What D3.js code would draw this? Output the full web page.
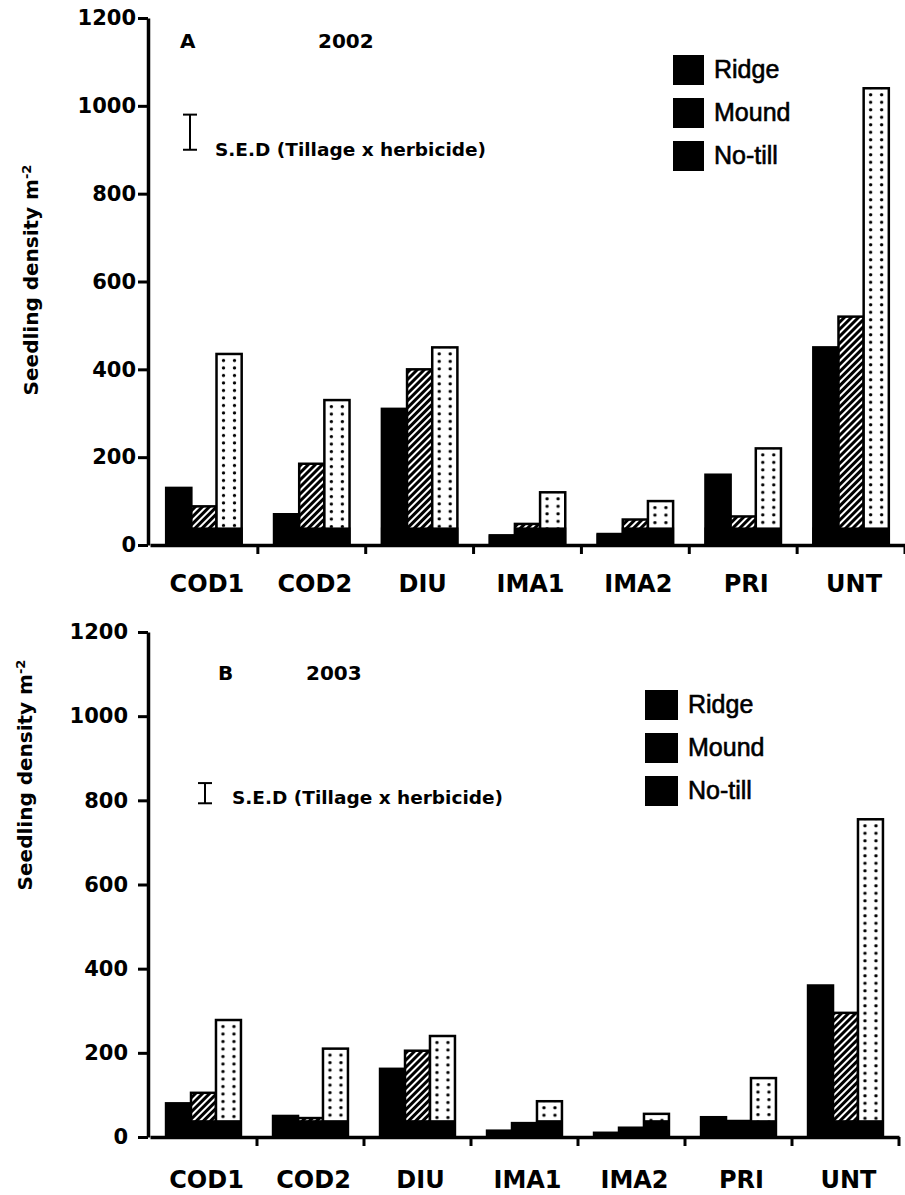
<!DOCTYPE html>
<html>
<head>
<meta charset="utf-8">
<script src="https://cdn.jsdelivr.net/npm/d3@7/dist/d3.min.js"></script>
<style>
  body { margin: 0; background: #fff; }
  svg { display: block; }
  text { font-family: 'DejaVu Sans', sans-serif; font-weight: bold; fill: #000; }
</style>
</head>
<body>
<svg id="chart" width="905" height="1195"></svg>
<script>
const categories = ['COD1', 'COD2', 'DIU', 'IMA1', 'IMA2', 'PRI', 'UNT'];
const tillage = ['Ridge', 'Mound', 'No-till'];
const yTicks = [0, 200, 400, 600, 800, 1000, 1200];

// 2002 seedling density (m-2)
const ridge2002 = [130, 70, 310, 22, 25, 160, 450];
const mound2002 = [88, 185, 400, 48, 58, 65, 520];
const notill2002 = [435, 330, 450, 120, 100, 220, 1040];

// 2003 seedling density (m-2)
const ridge2003 = [80, 50, 162, 15, 10, 47, 360];
const mound2003 = [105, 45, 205, 33, 22, 38, 295];
const notill2003 = [278, 210, 240, 85, 55, 140, 755];

// S.E.D (tillage x herbicide): [low, high]
const sed2002 = [900, 980];
const sed2003 = [793, 841];

// dark band the scan left at the foot of every bar
const BASE_SHADE = 40;

const svg = d3.select('#chart');
const defs = svg.append('defs');

defs.append('pattern')
  .attr('id', 'hatch')
  .attr('patternUnits', 'userSpaceOnUse')
  .attr('width', 5)
  .attr('height', 5)
  .attr('patternTransform', 'rotate(45)')
  .call(p => {
    p.append('rect').attr('width', 5).attr('height', 5).attr('fill', '#fff');
    p.append('line')
      .attr('x1', 1.5).attr('y1', 0)
      .attr('x2', 1.5).attr('y2', 5)
      .attr('stroke', '#000')
      .attr('stroke-width', 3);
  });

const panels = [
  {
    id: 'a', letter: 'A', year: '2002',
    series: [ridge2002, mound2002, notill2002], sed: sed2002,
    xRange: [150, 905], yRange: [545, 18],
    letterPos: [180, 48], yearPos: [318, 48],
    sedX: 190, sedText: [215, 156],
    legend: { x: 673, y: 55, w: 31, h: 30, step: 43 },
    yLabel: [38, 280], tickPad: 2, catOffset: 30,
  },
  {
    id: 'b', letter: 'B', year: '2003',
    series: [ridge2003, mound2003, notill2003], sed: sed2003,
    xRange: [150, 899], yRange: [1137, 632],
    letterPos: [218, 680], yearPos: [306, 680],
    sedX: 205, sedText: [232, 804],
    legend: { x: 645, y: 690, w: 33, h: 30, step: 43 },
    yLabel: [32, 775], tickPad: 10, catOffset: 34,
  },
];

panels.forEach(drawPanel);

function drawPanel(p) {
  let g = svg.append('g').attr('class', `panel-${p.id}`);

  let x = d3.scaleBand()
    .domain(categories)
    .range(p.xRange)
    .padding(0);

  let bw = x.bandwidth();
  let xSub = d3.scaleBand()
    .domain(tillage)
    .range([0.15 * bw, 0.85 * bw])
    .padding(0);

  let y = d3.scaleLinear()
    .domain([0, 1200])
    .range(p.yRange);

  let data = [];
  categories.forEach((c, i) => {
    tillage.forEach((t, j) => {
      data.push({ cat: c, till: t, value: p.series[j][i] });
    });
  });

  // one dot pattern per no-till bar so the columns sit inside the bar
  data.filter(d => d.till === 'No-till').forEach((d, i) => {
    let bx = x(d.cat) + xSub(d.till);
    let pat = defs.append('pattern')
      .attr('id', `dots-${p.id}-${i}`)
      .attr('patternUnits', 'userSpaceOnUse')
      .attr('x', bx + 1.5)
      .attr('y', y(d.value) + 3)
      .attr('width', 11)
      .attr('height', 7.5);
    pat.append('rect').attr('width', 11).attr('height', 7.5).attr('fill', '#fff');
    pat.append('circle').attr('cx', 5.5).attr('cy', 3.5).attr('r', 1.7).attr('fill', '#000');
    d.pattern = `url(#dots-${p.id}-${i})`;
  });

  let fillFor = d => {
    if (d.till === 'Ridge') return '#000';
    if (d.till === 'Mound') return 'url(#hatch)';
    return d.pattern;
  };

  let bars = g.append('g').attr('class', 'bars');

  bars.selectAll('rect.bar')
    .data(data)
    .enter()
    .append('rect')
      .classed('bar', true)
      .attr('x', d => x(d.cat) + xSub(d.till))
      .attr('y', d => y(d.value))
      .attr('width', xSub.bandwidth())
      .attr('height', d => y(0) - y(d.value))
      .attr('fill', fillFor)
      .attr('stroke', '#000')
      .attr('stroke-width', 2.5);

  bars.selectAll('rect.base')
    .data(data)
    .enter()
    .append('rect')
      .classed('base', true)
      .attr('x', d => x(d.cat) + xSub(d.till) - 1)
      .attr('y', d => y(Math.min(d.value, BASE_SHADE)))
      .attr('width', xSub.bandwidth() + 2)
      .attr('height', d => y(0) - y(Math.min(d.value, BASE_SHADE)))
      .attr('fill', '#000');

  // y axis
  let yAxis = d3.axisLeft(y)
    .tickValues(yTicks)
    .tickSize(10)
    .tickSizeOuter(0)
    .tickPadding(p.tickPad)
    .tickFormat(d3.format('d'));

  g.append('g')
    .attr('class', 'y axis')
    .attr('transform', `translate(${p.xRange[0] - 2}, 0)`)
    .call(yAxis)
    .call(a => a.select('.domain').attr('stroke-width', 3.5))
    .call(a => a.selectAll('.tick line').attr('stroke-width', 3))
    .call(a => a.selectAll('.tick text')
      .style('font-size', '21px')
      .style('font-family', "'DejaVu Sans', sans-serif")
      .style('font-weight', 'bold'));

  // x axis: labels centred, ticks on the right edge of each category
  let xAxis = d3.axisBottom(x)
    .tickSize(0)
    .tickSizeOuter(0)
    .tickPadding(p.catOffset);

  g.append('g')
    .attr('class', 'x axis')
    .attr('transform', `translate(0, ${y(0)})`)
    .call(xAxis)
    .call(a => a.select('.domain').attr('stroke-width', 3.5))
    .call(a => a.selectAll('.tick text')
      .attr('dx', 3)
      .style('font-size', '24px')
      .style('font-family', "'DejaVu Sans', sans-serif")
      .style('font-weight', 'bold'));

  g.append('g')
    .attr('class', 'x-bounds')
    .selectAll('line')
    .data(categories)
    .enter()
    .append('line')
      .attr('x1', d => x(d) + x.step())
      .attr('x2', d => x(d) + x.step())
      .attr('y1', y(0))
      .attr('y2', y(0) + 9)
      .attr('stroke', '#000')
      .attr('stroke-width', 3);

  // y axis title
  let yt = g.append('text')
    .attr('transform', `translate(${p.yLabel[0]}, ${p.yLabel[1]}) rotate(-90)`)
    .attr('text-anchor', 'middle')
    .style('font-size', '20px');
  yt.append('tspan').text('Seedling density m');
  yt.append('tspan')
    .attr('baseline-shift', 'super')
    .style('font-size', '13px')
    .text('-2');

  // panel letter and year
  g.append('text')
    .attr('x', p.letterPos[0])
    .attr('y', p.letterPos[1])
    .style('font-size', '20px')
    .text(p.letter);

  g.append('text')
    .attr('x', p.yearPos[0])
    .attr('y', p.yearPos[1])
    .style('font-size', '20px')
    .text(p.year);

  // S.E.D bar
  let sedG = g.append('g').attr('class', 'sed');
  sedG.append('line')
    .attr('x1', p.sedX).attr('x2', p.sedX)
    .attr('y1', y(p.sed[0])).attr('y2', y(p.sed[1]))
    .attr('stroke', '#000').attr('stroke-width', 2);
  sedG.selectAll('line.cap')
    .data(p.sed)
    .enter()
    .append('line')
      .classed('cap', true)
      .attr('x1', p.sedX - 7).attr('x2', p.sedX + 7)
      .attr('y1', d => y(d)).attr('y2', d => y(d))
      .attr('stroke', '#000').attr('stroke-width', 2);
  sedG.append('text')
    .attr('x', p.sedText[0])
    .attr('y', p.sedText[1])
    .style('font-size', '18.5px')
    .text('S.E.D (Tillage x herbicide)');

  // legend (the scan turned every key box solid black)
  let lg = g.append('g').attr('class', 'legend');
  let items = lg.selectAll('g.item')
    .data(tillage)
    .enter()
    .append('g')
      .classed('item', true)
      .attr('transform', (d, i) => `translate(${p.legend.x}, ${p.legend.y + i * p.legend.step})`);

  items.append('rect')
    .attr('width', p.legend.w)
    .attr('height', p.legend.h)
    .attr('fill', '#000');

  items.append('text')
    .attr('x', p.legend.w + 10)
    .attr('y', p.legend.h - 7)
    .style('font-family', "'Liberation Sans', Arial, sans-serif")
    .style('font-weight', 'normal')
    .style('font-size', '25px')
    .attr('stroke', '#000')
    .attr('stroke-width', 0.6)
    .text(d => d);
}
</script>
</body>
</html>
